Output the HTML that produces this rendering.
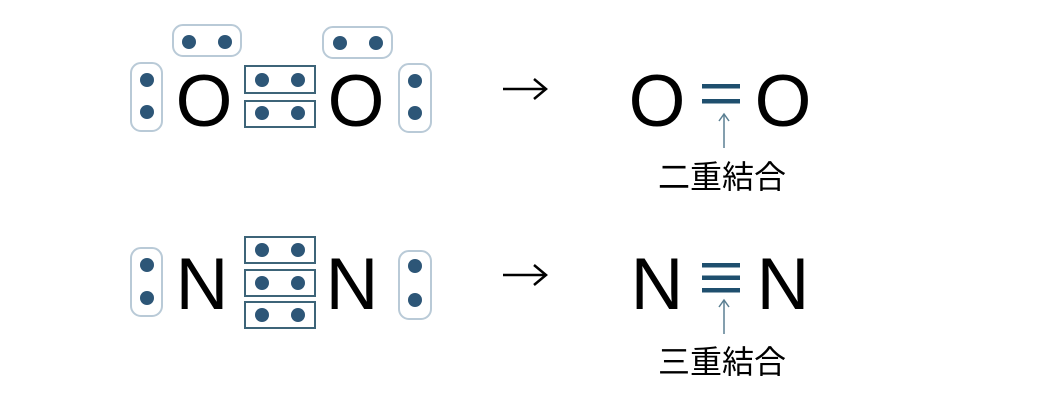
<!DOCTYPE html>
<html><head><meta charset="utf-8"><style>
html,body{margin:0;padding:0;background:#fff;}
svg{display:block;}
text{font-family:"Liberation Sans","Noto Sans CJK JP",sans-serif;}
</style></head><body>
<svg width="1058" height="404" viewBox="0 0 1058 404" xmlns="http://www.w3.org/2000/svg">
<g fill="none" stroke="#b9cad7" stroke-width="2">
<rect x="173" y="25" width="68" height="31" rx="10"/>
<rect x="323" y="27" width="69" height="31" rx="10"/>
<rect x="131" y="63" width="31" height="68" rx="10"/>
<rect x="399" y="64" width="32" height="68" rx="10"/>
<rect x="131" y="248" width="31" height="68" rx="10"/>
<rect x="399" y="251" width="32" height="68" rx="10"/>
</g>
<g fill="none" stroke="#3d6478" stroke-width="2">
<rect x="245" y="66" width="70" height="27"/>
<rect x="245" y="101" width="70" height="26"/>
<rect x="245" y="237" width="70" height="26"/>
<rect x="245" y="270" width="70" height="26"/>
<rect x="245" y="302" width="70" height="26"/>
</g>
<g fill="#2d5677">
<circle cx="189" cy="42" r="7"/><circle cx="225" cy="42" r="7"/>
<circle cx="340" cy="43" r="7"/><circle cx="376" cy="43" r="7"/>
<circle cx="147" cy="80" r="7"/><circle cx="147" cy="112" r="7"/>
<circle cx="415" cy="81" r="7"/><circle cx="415" cy="113" r="7"/>
<circle cx="262" cy="80" r="7"/><circle cx="298" cy="80" r="7"/>
<circle cx="262" cy="113" r="7"/><circle cx="298" cy="113" r="7"/>
<circle cx="147" cy="265" r="7"/><circle cx="147" cy="298" r="7"/>
<circle cx="415" cy="266" r="7"/><circle cx="415" cy="300" r="7"/>
<circle cx="262" cy="250" r="7"/><circle cx="298" cy="250" r="7"/>
<circle cx="262" cy="283" r="7"/><circle cx="298" cy="283" r="7"/>
<circle cx="262" cy="315" r="7"/><circle cx="298" cy="315" r="7"/>
</g>
<g font-size="73" fill="#000" text-anchor="middle">
<text x="204" y="126">O</text>
<text x="356" y="126">O</text>
<text x="202" y="309">N</text>
<text x="352" y="309">N</text>
<text x="657" y="126">O</text>
<text x="783" y="126">O</text>
<text x="657" y="309">N</text>
<text x="783" y="309">N</text>
</g>
<g stroke="#000" stroke-width="2.5" fill="none">
<line x1="503" y1="89" x2="545" y2="89"/>
<polyline points="534,79 546,89 534,99"/>
<line x1="503" y1="275" x2="545" y2="275"/>
<polyline points="534,265 546,275 534,285"/>
</g>
<g fill="#1f4f6e">
<rect x="702" y="84" width="38" height="4.5"/>
<rect x="702" y="99" width="38" height="4.5"/>
<rect x="702" y="263" width="38" height="4.5"/>
<rect x="702" y="275.5" width="38" height="4.5"/>
<rect x="702" y="288" width="38" height="4.5"/>
</g>
<g stroke="#5a7f92" stroke-width="1.5" fill="none">
<line x1="724" y1="148" x2="724" y2="115"/>
<polyline points="719,121 724,114 729,121"/>
<line x1="724" y1="334" x2="724" y2="301"/>
<polyline points="719,307 724,300 729,307"/>
</g>
<g font-size="32" fill="#000" text-anchor="middle">
<text x="722" y="188">二重結合</text>
<text x="722" y="373">三重結合</text>
</g>
</svg>
</body></html>
